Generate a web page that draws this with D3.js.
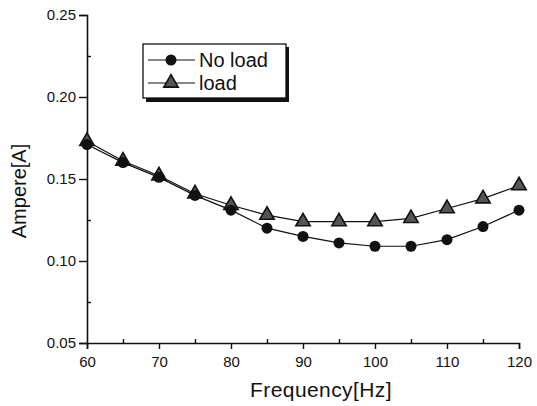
<!DOCTYPE html>
<html>
<head>
<meta charset="utf-8">
<script src="https://cdn.jsdelivr.net/npm/d3@7"></script>
<style>
  body { margin: 0; background: #fff; }
  text { font-family: "Liberation Sans", Arial, sans-serif; fill: #111; }
</style>
</head>
<body>
<script>
var freq = [60, 65, 70, 75, 80, 85, 90, 95, 100, 105, 110, 115, 120];
var noLoad = [0.171, 0.160, 0.151, 0.140, 0.131, 0.120, 0.115, 0.111, 0.109, 0.109, 0.113, 0.121, 0.131];
var withLoad = [0.173, 0.161, 0.152, 0.141, 0.134, 0.128, 0.124, 0.124, 0.124, 0.126, 0.132, 0.138, 0.146];
var xTicks = [60, 70, 80, 90, 100, 110, 120];
var yTicks = [0.05, 0.10, 0.15, 0.20, 0.25];
var seriesNames = ["No load", "load"];

var width = 537, height = 406;

var svg = d3.select("body").append("svg")
    .attr("width", width)
    .attr("height", height);

var x = d3.scaleLinear().domain([60, 120]).range([87, 519]);
var y = d3.scaleLinear().domain([0.05, 0.25]).range([343, 15]);

// axes: major ticks outside, minor ticks inside
var xAxis = svg.append("g")
    .attr("transform", "translate(0," + y(0.05) + ")")
    .call(d3.axisBottom(x).tickValues(xTicks).tickSize(6).tickPadding(4).tickFormat(d3.format("d")));
svg.append("g")
    .attr("transform", "translate(0," + y(0.05) + ")")
    .call(d3.axisTop(x).tickValues(d3.range(65, 120, 10)).tickSize(4).tickFormat(""))
    .select(".domain").remove();

var yAxis = svg.append("g")
    .attr("transform", "translate(" + x(60) + ",0)")
    .call(d3.axisLeft(y).tickValues(yTicks).tickSize(8).tickPadding(3).tickFormat(d3.format(".2f")));
svg.append("g")
    .attr("transform", "translate(" + x(60) + ",0)")
    .call(d3.axisRight(y).tickValues([0.075, 0.125, 0.175, 0.225]).tickSize(4).tickFormat(""))
    .select(".domain").remove();

svg.selectAll(".domain").attr("stroke", "#111").attr("stroke-width", 1.6);
svg.selectAll(".tick line").attr("stroke", "#111").attr("stroke-width", 1.4);
svg.selectAll(".tick text").style("font-size", "15px").attr("fill", "#111");
xAxis.selectAll(".tick text").attr("dy", "0.9em");

svg.append("text")
    .attr("x", 321)
    .attr("y", 397)
    .attr("text-anchor", "middle")
    .style("font-size", "21px")
    .style("letter-spacing", "0.4px")
    .text("Frequency[Hz]");

svg.append("text")
    .attr("transform", "translate(26,191) rotate(-90)")
    .attr("text-anchor", "middle")
    .style("font-size", "20px")
    .text("Ampere[A]");

var line = d3.line()
    .x((d, i) => x(freq[i]))
    .y((d) => y(d));

var tri = d3.symbol().type(d3.symbolTriangle).size(90);

function drawSeries(vals, kind) {
    svg.append("path")
        .datum(vals)
        .attr("d", line)
        .attr("fill", "none")
        .attr("stroke", "#111")
        .attr("stroke-width", 1.2);
    var g = svg.append("g");
    if (kind == "circle") {
        g.selectAll("circle").data(vals).enter().append("circle")
            .attr("cx", (d, i) => x(freq[i]))
            .attr("cy", (d) => y(d))
            .attr("r", 5.5)
            .attr("fill", "#111");
    } else {
        g.selectAll("path").data(vals).enter().append("path")
            .attr("d", tri)
            .attr("transform", (d, i) => "translate(" + x(freq[i]) + "," + y(d) + ")")
            .attr("fill", "#555")
            .attr("stroke", "#111")
            .attr("stroke-width", 1.6);
    }
}

drawSeries(withLoad, "triangle");
drawSeries(noLoad, "circle");

// legend with drop shadow
var lg = svg.append("g").attr("transform", "translate(143,44)");
lg.append("rect").attr("x", 3).attr("y", 3).attr("width", 143).attr("height", 55).attr("fill", "#111");
lg.append("rect").attr("width", 143).attr("height", 54)
    .attr("fill", "#fff").attr("stroke", "#111").attr("stroke-width", 1.3);

seriesNames.forEach((name, i) => {
    var row = lg.append("g").attr("transform", "translate(0," + (16 + i * 23) + ")");
    row.append("line").attr("x1", 5).attr("x2", 52).attr("y1", 0).attr("y2", 0)
        .attr("stroke", "#111").attr("stroke-width", 1.2);
    if (i == 0) {
        row.append("circle").attr("cx", 28).attr("cy", 0).attr("r", 5.5).attr("fill", "#111");
    } else {
        row.append("path").attr("d", tri).attr("transform", "translate(28,0)")
            .attr("fill", "#555").attr("stroke", "#111").attr("stroke-width", 1.6);
    }
    row.append("text").attr("x", 56).attr("y", 7)
        .style("font-size", "20px")
        .text(name);
});
</script>
</body>
</html>
